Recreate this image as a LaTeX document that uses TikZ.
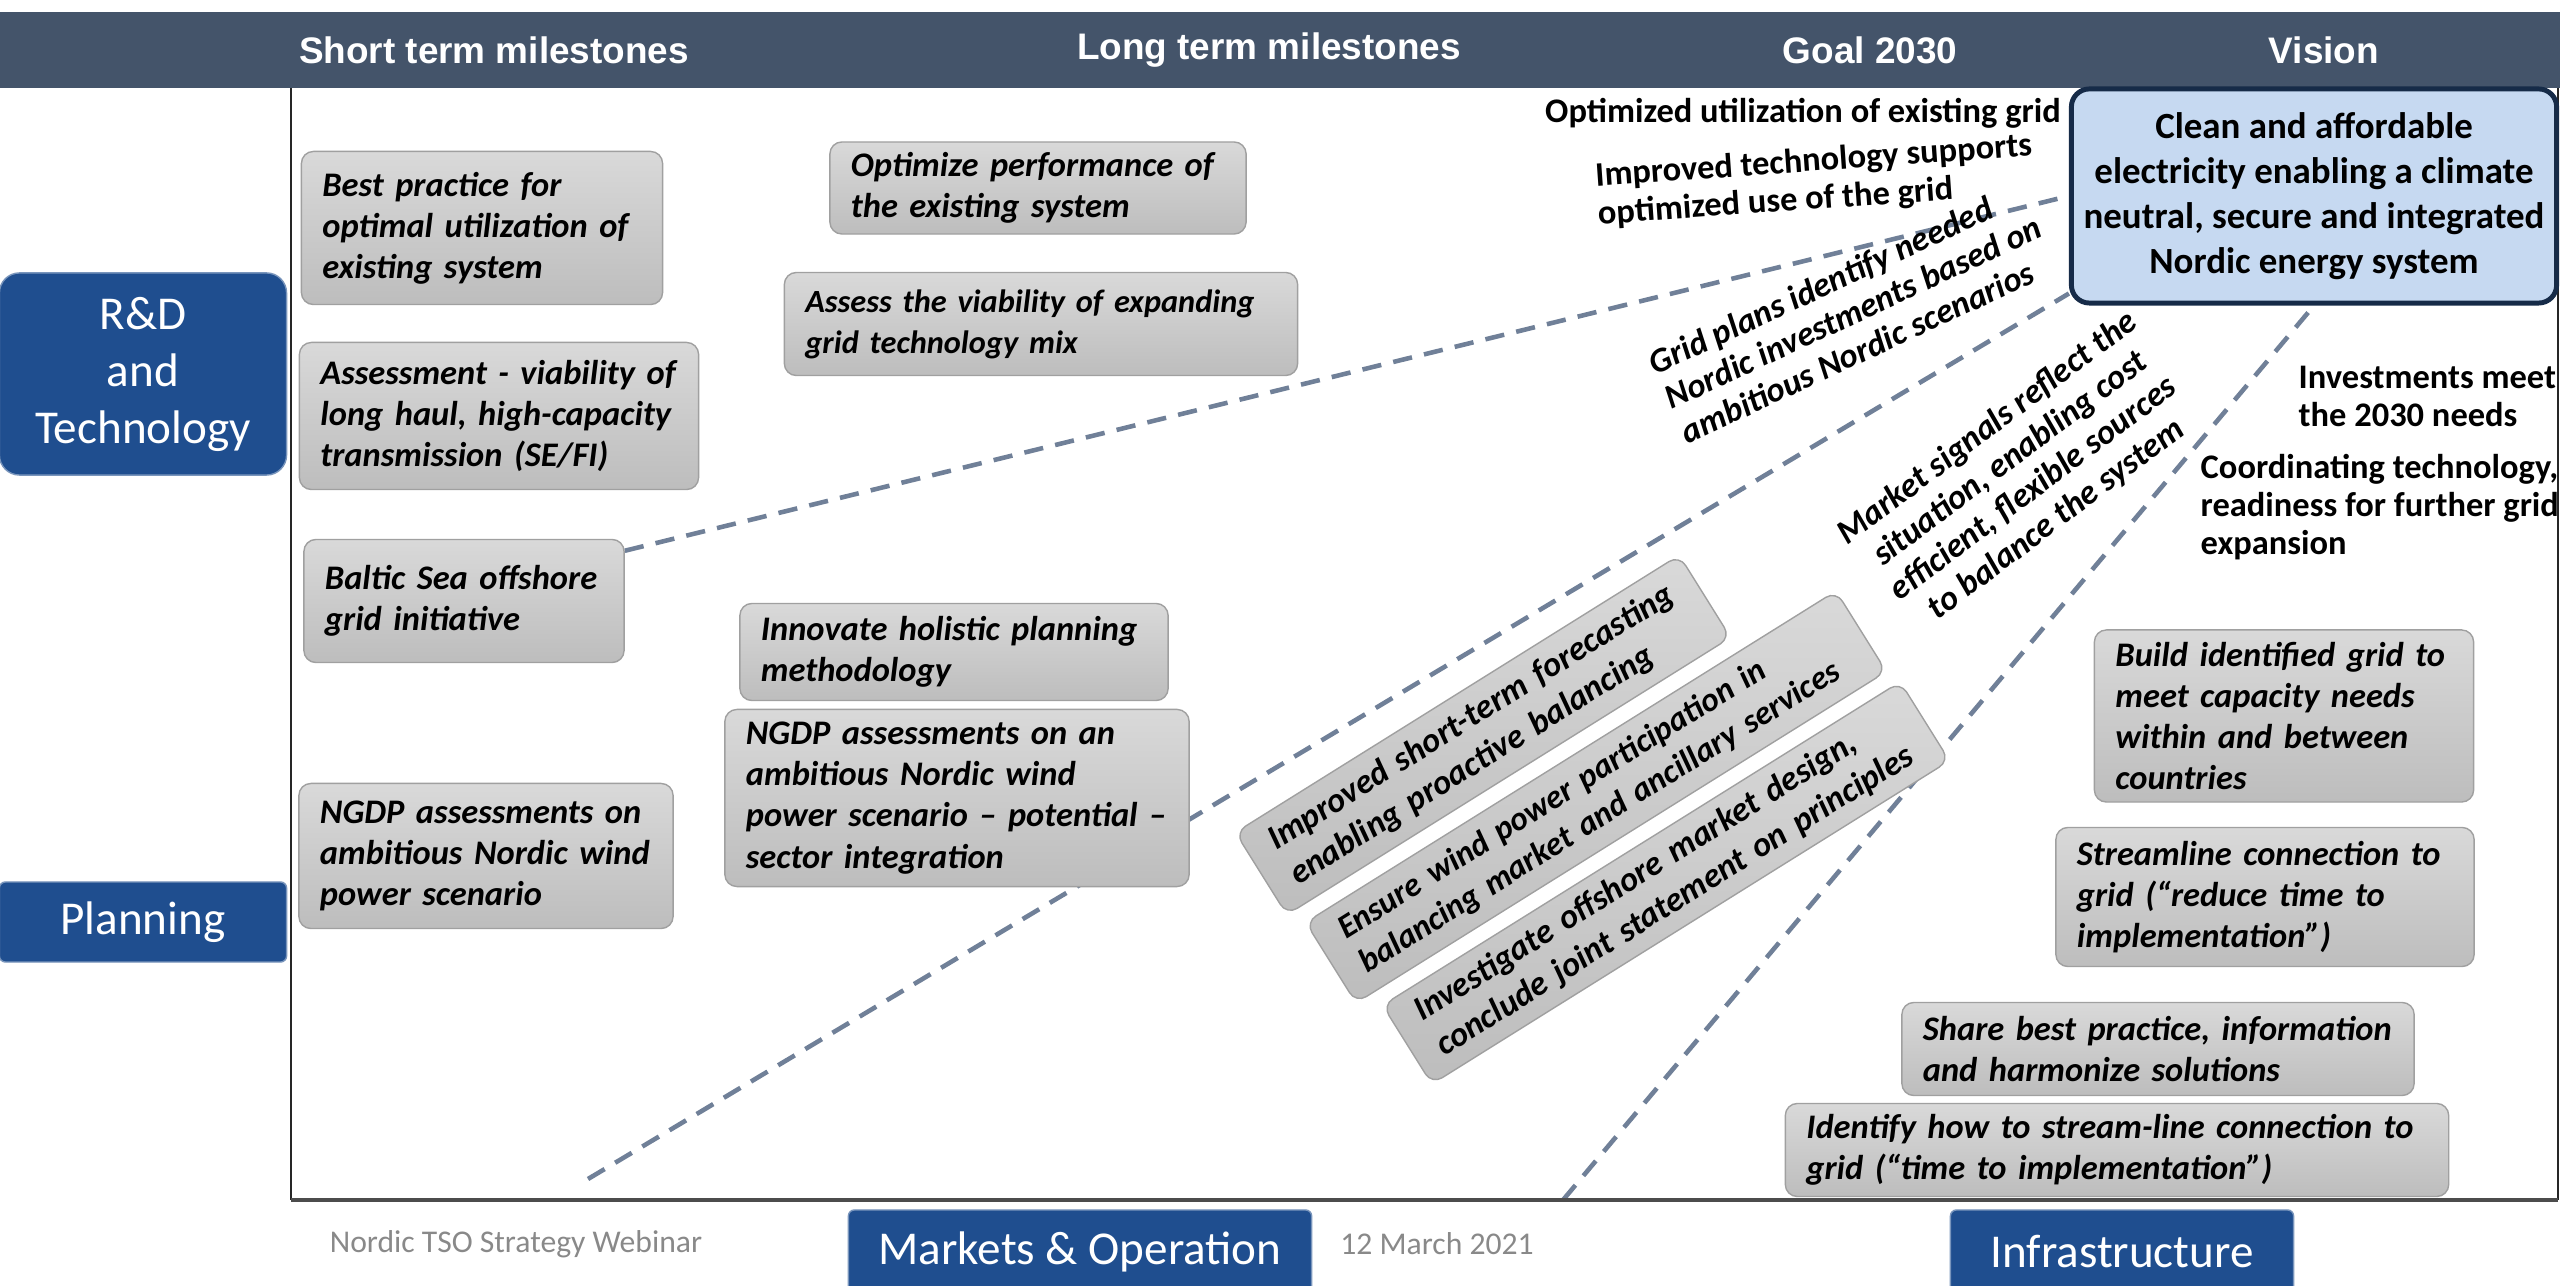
\documentclass[tikz,border=0pt]{standalone}
\usepackage{fontspec}
\setmainfont{Carlito}
\newfontfamily\headfont{Liberation Sans}
\usetikzlibrary{backgrounds}
\definecolor{headband}{RGB}{68,84,106}
\definecolor{labelblue}{RGB}{31,78,143}
\definecolor{boxtop}{RGB}{217,217,217}
\definecolor{boxbottom}{RGB}{189,189,189}
\definecolor{boxline}{RGB}{160,160,160}
\definecolor{visionfill}{RGB}{198,217,241}
\definecolor{visionline}{RGB}{22,43,72}
\definecolor{dashblue}{RGB}{112,128,152}
\definecolor{footgrey}{RGB}{137,137,137}
\newcommand{\milefont}{\fontsize{9.8}{11.7}\selectfont\bfseries\itshape\hyphenpenalty=10000}
\newcommand{\goalfont}{\fontsize{9.8}{10.8}\selectfont\bfseries}

\begin{document}
\begin{tikzpicture}[x=0.01cm,y=-0.01cm]
	\useasboundingbox (0,0) rectangle (2560,1286);
	% header band
	\fill[headband] (0,12) rectangle (2560,88);
	\begin{scope}[every node/.style={text=white,font=\headfont\fontsize{10.5}{12}\selectfont\bfseries}]
		\node (short) at (494,50) {Short term milestones};
		\node (long) at (1269,50) {Long term milestones};
		\node (goal) at (1870,50) {Goal 2030};
		\node (vis) at (2324,50) {Vision};
	\end{scope}
	% frame
	\draw[black!85,line width=0.6pt] (291,88) -- (291,1200);
	\draw[black!85,line width=0.6pt] (2558,88) -- (2558,1200);
	\draw[black!70,line width=1.2pt] (291,1200) -- (2558,1200);

	\begin{scope}[every node/.style={fill=labelblue,draw=labelblue!60!white,text=white,rounded corners=0.06cm,align=center,font=\fontsize{13.4}{16.2}\selectfont}]
		\node[minimum width=2.87cm,minimum height=2.02cm,rounded corners=0.2cm] (rnd) at (143,374) {R\&D\\and\\Technology};
		\node[minimum width=2.87cm,minimum height=0.8cm] (planning) at (143,922) {Planning};
		\node[minimum width=4.63cm,minimum height=0.84cm] (markets) at (1080,1252) {Markets \& Operation};
		\node[minimum width=3.43cm,minimum height=0.84cm] (infra) at (2122,1252) {Infrastructure};
	\end{scope}
	\begin{scope}[every node/.style={text=footgrey,font=\fontsize{9}{11}\selectfont}]
		\node (webinar) at (516,1244) {Nordic TSO Strategy Webinar};
		\node (date) at (1437,1244) {12 March 2021};
	\end{scope}

	\node[draw=visionline,line width=1.4pt,fill=visionfill,rounded corners=0.18cm,minimum width=4.85cm,minimum height=2.14cm,align=center,font=\fontsize{10.5}{12.8}\selectfont\bfseries] (vision) at (2314,196) {Clean and affordable\\electricity enabling a climate\\neutral, secure and integrated\\Nordic energy system};

	\begin{scope}[every node/.style={draw=boxline,top color=boxtop,bottom color=boxbottom,rounded corners=0.12cm,align=left,inner xsep=0.21cm,inner ysep=0pt,font=\milefont}]
		\node[text width=3.19cm,minimum height=1.53cm] (bestpractice) at (482,228) {Best practice for\\optimal utilization of\\existing system};
		\node[text width=3.57cm,minimum height=1.47cm] (assessment) at (499,416) {Assessment - viability of\\long haul, high-capacity\\transmission (SE/FI)};
		\node[text width=2.78cm,minimum height=1.23cm] (baltic) at (464,601) {Baltic Sea offshore\\grid initiative};
		\node[text width=3.32cm,minimum height=1.45cm] (ngdpwind) at (486,856) {NGDP assessments on\\ambitious Nordic wind\\power scenario};
		\node[text width=3.74cm,minimum height=0.92cm] (optimize) at (1038,188) {Optimize performance of\\the existing system};
		\node[text width=4.71cm,minimum height=1.03cm,font=\milefont\fontsize{9.2}{11.7}\selectfont] (assessmix) at (1041,324) {Assess the viability of expanding\\grid technology mix};
		\node[text width=3.86cm,minimum height=0.97cm] (innovate) at (954,652) {Innovate holistic planning\\methodology};
		\node[text width=4.22cm,minimum height=1.77cm] (ngdpsector) at (957,798) {NGDP assessments on an\\ambitious Nordic wind\\power scenario -- potential --\\sector integration};
		\node[text width=3.37cm,minimum height=1.72cm] (buildgrid) at (2284,716) {Build identified grid to\\meet capacity needs\\within and between\\countries};
		\node[text width=3.76cm,minimum height=1.39cm] (streamline) at (2265,897) {Streamline connection to\\grid (“reduce time to\\implementation”)};
		\node[text width=4.70cm,minimum height=0.93cm] (sharebest) at (2158,1049) {Share best practice, information\\and harmonize solutions};
		\node[text width=6.21cm,minimum height=0.93cm] (identify) at (2117,1150) {Identify how to stream-line connection to\\grid (“time to implementation”)};
	\end{scope}

	\begin{scope}[every node/.style={draw=boxline,top color=boxtop,bottom color=boxbottom,rounded corners=0.12cm,align=left,inner xsep=0.25cm,inner ysep=0pt,rotate=32,font=\milefont}]
		\node[text width=4.73cm,minimum height=0.97cm] (forecast) at (1483,735) {Improved short-term forecasting\\enabling proactive balancing};
		\node[text width=5.75cm,minimum height=0.95cm,font=\milefont\fontsize{9.5}{11.4}\selectfont] (windpower) at (1596,797) {Ensure wind power participation in\\balancing market and ancillary services};
		\node[text width=5.60cm,minimum height=0.93cm] (offshore) at (1666,883) {Investigate offshore market design,\\conclude joint statement on principles};
	\end{scope}

	\begin{scope}[every node/.style={font=\goalfont,align=left,inner sep=0pt}]
		\node (optgrid) at (1803,113) {Optimized utilization of existing grid};
		\node[rotate=4] (techgrid) at (1815,181) {Improved technology supports\\optimized use of the grid};
		\node[rotate=25,font=\goalfont\itshape] (gridplans) at (1853,312) {Grid plans identify needed\\Nordic investments based on\\ambitious Nordic scenarios};
		\node[rotate=37,align=center,font=\goalfont\itshape] (signals) at (2022,474) {Market signals reflect the\\situation, enabling cost\\efficient, flexible sources\\to balance the system};
		\node[anchor=west] (invest) at (2298,396) {Investments meet\\the 2030 needs};
		\node[anchor=west] (coord) at (2200,507) {Coordinating technology,\\readiness for further grid\\expansion};
	\end{scope}

	\begin{pgfonlayer}{background}
		\begin{scope}[every edge/.style={draw=dashblue,line width=1.3pt,dash pattern=on 5.5pt off 3.5pt}]
			\coordinate (planlow) at (588,1179);
			\coordinate (infralow) at (1563,1200);
			\path ([yshift=-0.12cm]baltic.north east) edge (vision.west);
			\path (planlow) edge ([yshift=0.12cm]vision.south west);
			\path (infralow) edge (vision.south);
		\end{scope}
	\end{pgfonlayer}
\end{tikzpicture}
\end{document}
